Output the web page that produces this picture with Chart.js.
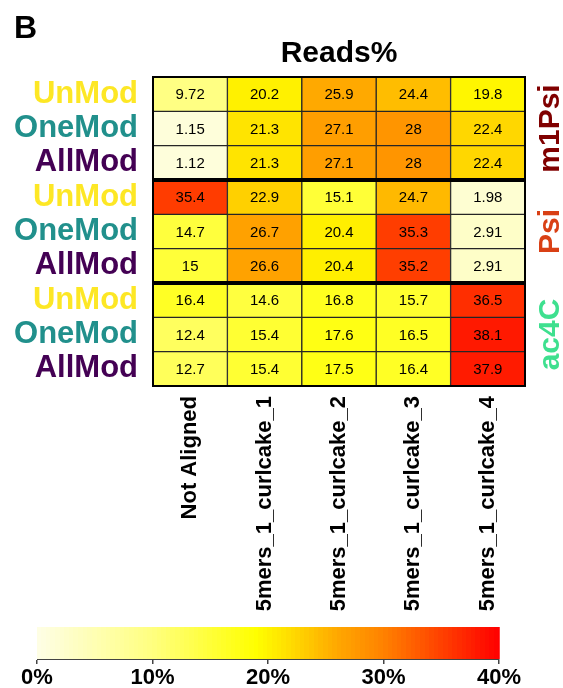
<!DOCTYPE html>
<html>
<head>
<meta charset="utf-8">
<script src="https://cdn.jsdelivr.net/npm/chart.js@4/dist/chart.umd.min.js"></script>
<style>
  html, body { margin: 0; padding: 0; background: #ffffff; }
  #page { position: relative; width: 563px; height: 688px; overflow: hidden; }
  #heatWrap { position: absolute; left: 0; top: 0; width: 563px; height: 620px; }
  #barWrap { position: absolute; left: 0; top: 606px; width: 563px; height: 82px; }
</style>
</head>
<body>
<div id="page">
  <div id="heatWrap"><canvas id="heat"></canvas></div>
  <div id="barWrap"><canvas id="scale"></canvas></div>
</div>
<script>
// Samples (columns) and read classes (rows)
const colLabels = ['Not Aligned', '5mers_1_curlcake_1', '5mers_1_curlcake_2', '5mers_1_curlcake_3', '5mers_1_curlcake_4'];
const rowLabels = ['UnMod', 'OneMod', 'AllMod', 'UnMod', 'OneMod', 'AllMod', 'UnMod', 'OneMod', 'AllMod'];
const rowColors = ['#fde725', '#21908c', '#440154', '#fde725', '#21908c', '#440154', '#fde725', '#21908c', '#440154'];

// Modification groups (three rows each)
const groupLabels = ['m1Psi', 'Psi', 'ac4C'];
const groupColors = ['#800000', '#d94015', '#3ee08f'];

// Percentage of reads per row (one array per row, in column order)
const m1PsiUnMod  = [9.72, 20.2, 25.9, 24.4, 19.8];
const m1PsiOneMod = [1.15, 21.3, 27.1, 28, 22.4];
const m1PsiAllMod = [1.12, 21.3, 27.1, 28, 22.4];
const psiUnMod    = [35.4, 22.9, 15.1, 24.7, 1.98];
const psiOneMod   = [14.7, 26.7, 20.4, 35.3, 2.91];
const psiAllMod   = [15, 26.6, 20.4, 35.2, 2.91];
const ac4CUnMod   = [16.4, 14.6, 16.8, 15.7, 36.5];
const ac4COneMod  = [12.4, 15.4, 17.6, 16.5, 38.1];
const ac4CAllMod  = [12.7, 15.4, 17.5, 16.4, 37.9];
const rowValues = [m1PsiUnMod, m1PsiOneMod, m1PsiAllMod, psiUnMod, psiOneMod, psiAllMod, ac4CUnMod, ac4COneMod, ac4CAllMod];

// Colour scale ticks
const scaleTicks = [0, 10, 20, 30, 40];

const FONT = '"Liberation Sans", Arial, Helvetica, sans-serif';

// heat palette: cream -> yellow -> orange -> red
const stops = [
  [0,  [254, 254, 230]],
  [10, [255, 255, 128]],
  [19, [255, 255, 0]],
  [22, [255, 220, 0]],
  [26, [255, 168, 0]],
  [30, [255, 130, 0]],
  [40, [255, 0, 0]]
];
function heatColor(v) {
  if (v <= stops[0][0]) return 'rgb(' + stops[0][1].join(',') + ')';
  for (let i = 1; i < stops.length; i++) {
    if (v <= stops[i][0]) {
      const [a, ca] = stops[i - 1], [b, cb] = stops[i];
      const t = (v - a) / (b - a);
      const c = ca.map((x, k) => Math.round(x + (cb[k] - x) * t));
      return 'rgb(' + c.join(',') + ')';
    }
  }
  return 'rgb(' + stops[stops.length - 1][1].join(',') + ')';
}

// one floating-bar dataset per row: each cell spans [r, r+1] on the y scale
const datasets = rowValues.map((vals, r) => ({
  label: rowLabels[r],
  data: vals.map((v, c) => ({ x: colLabels[c], y: [r, r + 1], v: v })),
  backgroundColor: ctx => heatColor(ctx.raw.v),
  borderColor: '#262626',
  borderWidth: 1,
  borderSkipped: false,
  barPercentage: 1,
  categoryPercentage: 1,
  grouped: false
}));

const heatDecor = {
  id: 'heatDecor',
  afterDatasetsDraw(chart) {
    const { ctx, chartArea: a, scales } = chart;
    const ys = scales.y;
    ctx.save();
    // cell values
    ctx.fillStyle = '#000';
    ctx.font = '15px ' + FONT;
    ctx.textAlign = 'center';
    ctx.textBaseline = 'middle';
    chart.data.datasets.forEach((ds, di) => {
      chart.getDatasetMeta(di).data.forEach((el, i) => {
        const cy = (el.y + el.base) / 2;
        ctx.fillText(String(ds.data[i].v), el.x, cy + 1);
      });
    });
    // group separators
    ctx.strokeStyle = '#000';
    ctx.lineWidth = 4;
    [3, 6].forEach(v => {
      const y = ys.getPixelForValue(v);
      ctx.beginPath();
      ctx.moveTo(a.left, y);
      ctx.lineTo(a.right, y);
      ctx.stroke();
    });
    // outer frame
    ctx.lineWidth = 2;
    ctx.strokeRect(a.left, a.top, a.right - a.left, a.bottom - a.top);
    // group labels on the right
    ctx.font = 'bold 30px ' + FONT;
    groupLabels.forEach((g, i) => {
      const y = ys.getPixelForValue(i * 3 + 1.5);
      ctx.save();
      ctx.translate(a.right + 26, y);
      ctx.rotate(-Math.PI / 2);
      ctx.fillStyle = groupColors[i];
      ctx.textAlign = 'center';
      ctx.textBaseline = 'middle';
      ctx.fillText(g, 0, 0);
      ctx.restore();
    });
    // panel letter and title
    ctx.fillStyle = '#000';
    ctx.textAlign = 'left';
    ctx.textBaseline = 'alphabetic';
    ctx.font = 'bold 32px ' + FONT;
    ctx.fillText('B', 14, 38);
    ctx.textAlign = 'center';
    ctx.font = 'bold 30px ' + FONT;
    ctx.fillText('Reads%', (a.left + a.right) / 2, 62);
    ctx.restore();
  }
};

new Chart(document.getElementById('heat'), {
  type: 'bar',
  data: { labels: colLabels, datasets: datasets },
  options: {
    responsive: true,
    maintainAspectRatio: false,
    animation: false,
    events: [],
    layout: { padding: { top: 77, right: 38, left: 0, bottom: 0 } },
    plugins: { legend: { display: false }, tooltip: { enabled: false }, title: { display: false } },
    scales: {
      x: {
        type: 'category',
        grid: { display: false, drawTicks: false },
        border: { display: false },
        ticks: {
          autoSkip: false,
          minRotation: 90,
          maxRotation: 90,
          padding: 10,
          color: '#000',
          font: { family: FONT, size: 22, weight: 'bold' }
        },
        afterFit(scale) { scale.height = 234; }
      },
      y: {
        type: 'linear',
        min: 0,
        max: 9,
        reverse: true,
        grid: { display: false, drawTicks: false },
        border: { display: false },
        afterBuildTicks(scale) {
          scale.ticks = rowLabels.map((_, i) => ({ value: i + 0.5 }));
        },
        ticks: {
          autoSkip: false,
          padding: 15,
          color: ctx => rowColors[ctx.index],
          font: { family: FONT, size: 31, weight: 'bold' },
          callback: (v, i) => rowLabels[i]
        },
        afterFit(scale) { scale.width = 153; }
      }
    }
  },
  plugins: [heatDecor]
});

// colour key drawn in narrow stripes along a linear 0-40 axis
const scaleBar = {
  id: 'scaleBar',
  beforeDatasetsDraw(chart) {
    const { ctx, chartArea: a, scales } = chart;
    const xs = scales.x;
    const step = 0.4;
    ctx.save();
    for (let v = 0; v < 40; v += step) {
      const x0 = xs.getPixelForValue(v);
      const x1 = xs.getPixelForValue(Math.min(40, v + step));
      ctx.fillStyle = heatColor(v + step / 2);
      ctx.fillRect(Math.floor(x0), a.top, Math.ceil(x1) - Math.floor(x0) + 0.5, a.bottom - a.top);
    }
    ctx.restore();
  }
};

new Chart(document.getElementById('scale'), {
  type: 'scatter',
  data: { datasets: [{ data: [], pointRadius: 0 }] },
  options: {
    responsive: true,
    maintainAspectRatio: false,
    animation: false,
    events: [],
    layout: { padding: { top: 21, left: 37, right: 64, bottom: 0 } },
    plugins: { legend: { display: false }, tooltip: { enabled: false } },
    scales: {
      x: {
        type: 'linear',
        min: 0,
        max: 40,
        afterBuildTicks(scale) { scale.ticks = scaleTicks.map(v => ({ value: v })); },
        grid: { display: true, drawOnChartArea: false, drawTicks: true, tickLength: 5, color: '#444', lineWidth: 1.5 },
        border: { display: true, color: '#444', width: 1 },
        ticks: {
          padding: 1,
          color: '#000',
          maxRotation: 0,
          font: { family: FONT, size: 22, weight: 'bold' },
          callback: v => v + '%'
        },
        afterFit(scale) { scale.height = 29; }
      },
      y: { display: false, min: 0, max: 1 }
    }
  },
  plugins: [scaleBar]
});
</script>
</body>
</html>
